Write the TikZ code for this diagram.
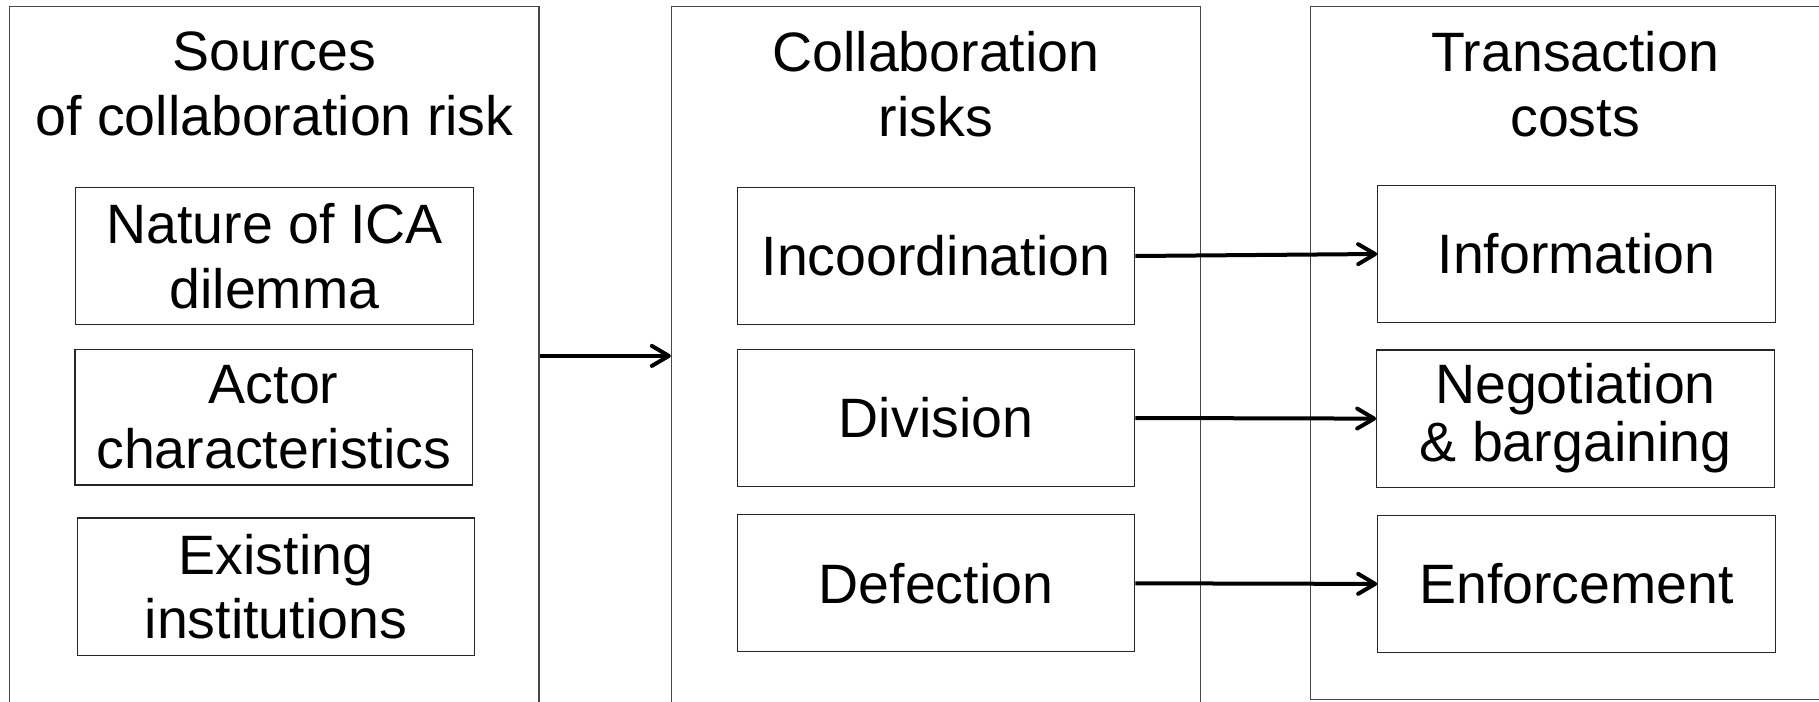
\documentclass[tikz,border=0pt]{standalone}
\usepackage{fontspec}
\setmainfont{Liberation Sans}
\usetikzlibrary{arrows.meta}
\tikzset{
  txt/.style={font=\fontsize{55.5pt}{64.7pt}\selectfont, align=center, inner sep=0pt},
  outerbox/.style={draw=black!72, line width=1.3pt, inner sep=0pt, minimum width=529.2pt},
  innerbox/.style={txt, draw=black!85, line width=1.3pt, minimum width=397.4pt, minimum height=137pt},
  titletxt/.style={txt, anchor=north},
  link/.style={line width=4pt, -{Straight Barb[length=17pt,width=20pt,round]}}
}
\begin{document}
\begin{tikzpicture}[x=1pt,y=-1pt]
\clip (0,0) rectangle (1819,701);
\fill[white] (0,0) rectangle (1819,701);
% outer containers
\node[outerbox, minimum height=698.3pt] (src) at (274.4,355.9) {};
\node[outerbox, minimum height=698.3pt] (risk) at (936.1,355.9) {};
\node[outerbox, minimum height=692.6pt] (cost) at (1575.3,353) {};
% titles
\node[titletxt] (srcT) at (274.5,31.5) {Sources\\of collaboration risk};
\node[titletxt] (riskT) at (936,31.5) {Collaboration\\risks};
\node[titletxt] (costT) at (1575,31.5) {Transaction\\costs};
% left column
\node[innerbox] (nature) at (274.5,256) {Nature of ICA\\dilemma};
\node[innerbox, minimum height=135.3pt] (actor) at (273.7,417.2) {Actor\\characteristics};
\node[innerbox, minimum height=137.5pt] (exist) at (275.9,586.7) {Existing\\institutions};
% middle column
\node[innerbox] (incoord) at (936,256) {Incoordination};
\node[innerbox] (division) at (936,418) {Division};
\node[innerbox] (defect) at (936,583.3) {Defection};
% right column
\node[innerbox] (info) at (1576.5,254) {Information};
\node[innerbox, minimum height=137.3pt] (nego) at (1575.5,418.6) {Negotiation\\[-6.7pt]\& bargaining};
\node[innerbox] (enf) at (1576.5,583.9) {Enforcement};
% connectors
\draw[link] (src.east) -- (risk.west);
\draw[link] (incoord.east) -- (info.west);
\draw[link] (division.east) -- (nego.west);
\draw[link] (defect.east) -- (enf.west);
\end{tikzpicture}
\end{document}
